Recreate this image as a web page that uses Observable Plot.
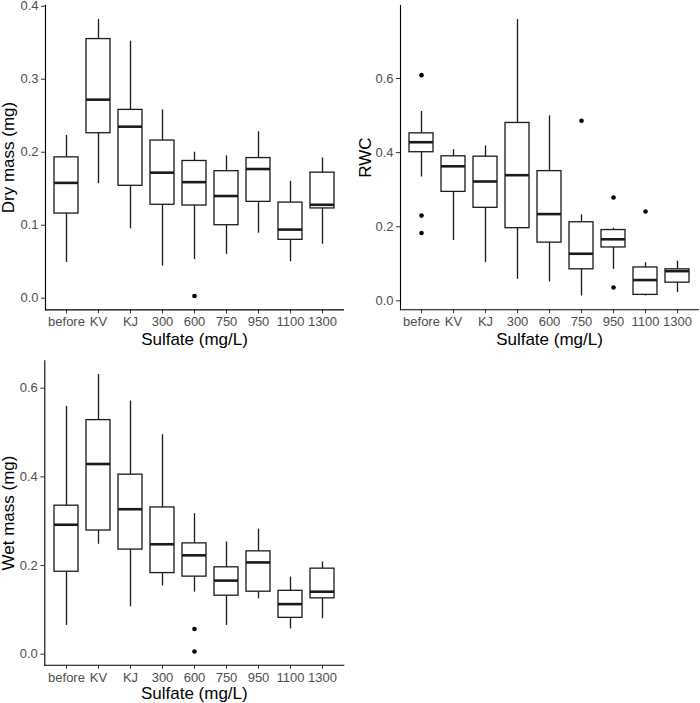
<!DOCTYPE html>
<html>
<head>
<meta charset="utf-8">
<script src="https://cdn.jsdelivr.net/npm/d3@7"></script>
<script src="https://cdn.jsdelivr.net/npm/@observablehq/plot@0.6"></script>
<style>
  html, body { margin: 0; padding: 0; background: white; }
  #wrap { position: relative; width: 700px; height: 703px; background: white; }
  .panel { position: absolute; }
</style>
</head>
<body>
<div id="wrap">
  <div class="panel" id="p1" style="left:0px;top:0px;"></div>
  <div class="panel" id="p2" style="left:350px;top:0px;"></div>
  <div class="panel" id="p3" style="left:0px;top:351px;"></div>
</div>
<script>
const categories = ["before", "KV", "KJ", "300", "600", "750", "950", "1100", "1300"];

// Dry mass (mg)
const dryLow  = [0.049, 0.157, 0.095, 0.044, 0.053, 0.060, 0.089, 0.050, 0.074];
const dryQ1   = [0.116, 0.226, 0.154, 0.128, 0.127, 0.100, 0.132, 0.080, 0.123];
const dryMed  = [0.158, 0.272, 0.235, 0.172, 0.159, 0.140, 0.177, 0.094, 0.128];
const dryQ3   = [0.193, 0.355, 0.258, 0.216, 0.188, 0.174, 0.192, 0.131, 0.172];
const dryHigh = [0.223, 0.382, 0.352, 0.258, 0.200, 0.195, 0.228, 0.160, 0.192];
const dryOutCat = ["600"];
const dryOutVal = [0.003];
const dryTicks = [0, 0.1, 0.2, 0.3, 0.4];

// RWC
const rwcLow  = [0.334, 0.163, 0.103, 0.058, 0.051, 0.013, 0.085, 0.013, 0.022];
const rwcQ1   = [0.401, 0.294, 0.251, 0.196, 0.157, 0.085, 0.144, 0.016, 0.049];
const rwcMed  = [0.428, 0.363, 0.322, 0.339, 0.234, 0.127, 0.166, 0.056, 0.080];
const rwcQ3   = [0.452, 0.390, 0.389, 0.480, 0.350, 0.212, 0.191, 0.090, 0.085];
const rwcHigh = [0.511, 0.408, 0.418, 0.759, 0.499, 0.232, 0.196, 0.103, 0.107];
const rwcOutCat = ["before", "before", "before", "750", "950", "950", "1100"];
const rwcOutVal = [0.609, 0.230, 0.183, 0.486, 0.279, 0.036, 0.241];
const rwcTicks = [0, 0.2, 0.4, 0.6];

// Wet mass (mg)
const wetLow  = [0.065, 0.248, 0.107, 0.154, 0.140, 0.065, 0.125, 0.057, 0.080];
const wetQ1   = [0.186, 0.279, 0.236, 0.183, 0.175, 0.132, 0.141, 0.082, 0.126];
const wetMed  = [0.292, 0.429, 0.327, 0.248, 0.223, 0.166, 0.207, 0.113, 0.141];
const wetQ3   = [0.335, 0.528, 0.405, 0.331, 0.250, 0.196, 0.232, 0.143, 0.193];
const wetHigh = [0.559, 0.631, 0.571, 0.495, 0.317, 0.253, 0.282, 0.174, 0.208];
const wetOutCat = ["600", "600"];
const wetOutVal = [0.057, 0.006];
const wetTicks = [0, 0.2, 0.4, 0.6];

const xTitle = "Sulfate (mg/L)";

function panel(opts) {
  const rows = categories.map((c, i) => ({
    cat: c, low: opts.low[i], q1: opts.q1[i], med: opts.med[i], q3: opts.q3[i], high: opts.high[i]
  }));
  const outs = opts.outCat.map((c, i) => ({cat: c, value: opts.outVal[i]}));
  const lineCol = "#1a1a1a";
  return Plot.plot({
    width: opts.width,
    height: opts.height,
    marginTop: opts.mt,
    marginRight: opts.mr,
    marginBottom: opts.mb,
    marginLeft: opts.ml,
    style: {fontFamily: "'Liberation Sans', Arial, sans-serif", fontSize: "13px", color: "#333333", background: "white", overflow: "visible"},
    x: {type: "band", domain: categories, paddingInner: 0.26, paddingOuter: 0.23, axis: null},
    y: {domain: opts.yDomain, axis: null},
    marks: [
      Plot.axisY({ticks: opts.ticks, tickFormat: d3.format(".1f"), tickSize: 4, tickPadding: 3, fontSize: 13, label: null, fill: "#4D4D4D", stroke: "#333333"}),
      Plot.axisX({tickSize: 4, tickPadding: 3, fontSize: 13, label: null, fill: "#4D4D4D", stroke: "#333333"}),
      Plot.frame({anchor: "left", stroke: "black", strokeWidth: 1.1}),
      Plot.frame({anchor: "bottom", stroke: "black", strokeWidth: 1.1}),
      Plot.ruleX(rows, {x: "cat", y1: "low", y2: "q1", stroke: lineCol, strokeWidth: 1.3}),
      Plot.ruleX(rows, {x: "cat", y1: "q3", y2: "high", stroke: lineCol, strokeWidth: 1.3}),
      Plot.barY(rows, {x: "cat", y1: "q1", y2: "q3", fill: "white", stroke: lineCol, strokeWidth: 1.3}),
      Plot.tickY(rows, {x: "cat", y: "med", stroke: lineCol, strokeWidth: 2.6}),
      Plot.dot(outs, {x: "cat", y: "value", r: 2.3, fill: "black", stroke: "none"}),
      Plot.text([xTitle], {text: d => d, frameAnchor: "bottom", textAnchor: "middle", lineAnchor: "bottom", dy: opts.xdy, fontSize: 17, fill: "black"}),
      Plot.text([opts.label], {text: d => d, frameAnchor: "left", textAnchor: "middle", rotate: -90, lineAnchor: "bottom", dx: opts.ydx, fontSize: 17, fill: "black"})
    ]
  });
}

document.getElementById("p1").appendChild(panel({
  low: dryLow, q1: dryQ1, med: dryMed, q3: dryQ3, high: dryHigh,
  outCat: dryOutCat, outVal: dryOutVal, ticks: dryTicks,
  yDomain: [-0.016, 0.4014], label: "Dry mass (mg)",
  width: 350, height: 351, mt: 4.7, mr: 7, mb: 41.6, ml: 45, xdy: 35, ydx: -32
}));
document.getElementById("p2").appendChild(panel({
  low: rwcLow, q1: rwcQ1, med: rwcMed, q3: rwcQ3, high: rwcHigh,
  outCat: rwcOutCat, outVal: rwcOutVal, ticks: rwcTicks,
  yDomain: [-0.024, 0.797], label: "RWC",
  width: 350, height: 351, mt: 5, mr: 2, mb: 41.8, ml: 50, xdy: 35, ydx: -30
}));
document.getElementById("p3").appendChild(panel({
  low: wetLow, q1: wetQ1, med: wetMed, q3: wetQ3, high: wetHigh,
  outCat: wetOutCat, outVal: wetOutVal, ticks: wetTicks,
  yDomain: [-0.025, 0.662], label: "Wet mass (mg)",
  width: 350, height: 352, mt: 9.2, mr: 6.7, mb: 38.2, ml: 44.3, xdy: 33.5, ydx: -31.3
}));
</script>
</body>
</html>
